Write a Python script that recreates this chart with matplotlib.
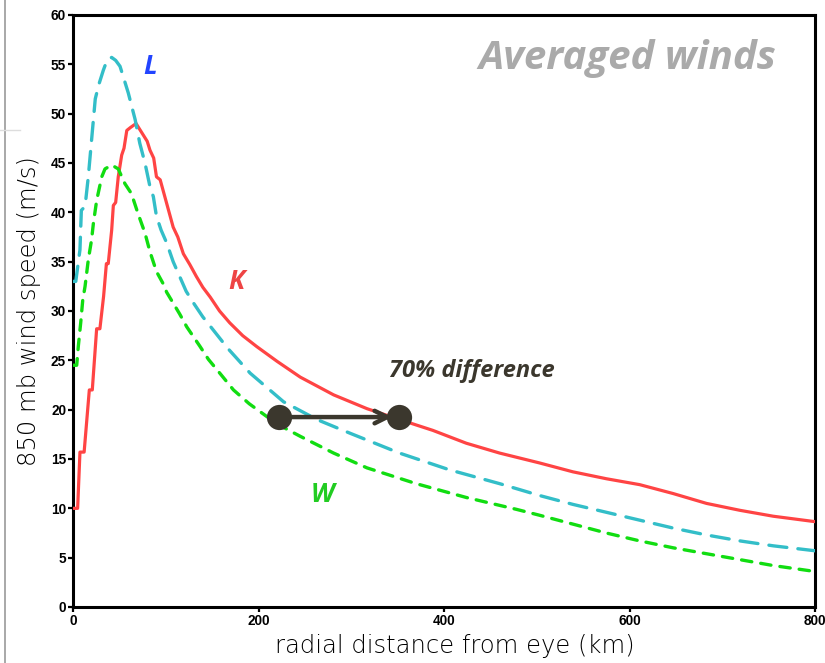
import matplotlib
matplotlib.use("Agg")
import matplotlib.pyplot as plt
from matplotlib.lines import Line2D

plt.rcParams['lines.scale_dashes'] = False

# ---------------- data ----------------
k_x = [0, 5, 7.5, 12, 17.6, 20.8, 25.5, 29, 33, 36, 38, 41.7, 43.5, 46, 48.8, 52.5, 55, 58, 62, 68,
       72, 76, 80, 83, 87, 90, 94, 101, 108, 113, 119, 126, 133, 140, 148, 158, 169, 183, 198, 220,
       245, 281, 317, 352, 388, 424, 460, 503, 539, 575, 611, 647, 683, 719, 755, 800]
k_y = [10, 10, 15.7, 15.7, 22, 22, 28.2, 28.2, 31.5, 34.8, 34.8, 38.2, 40.7, 41.0, 43.6, 45.8, 46.5, 48.3, 48.6, 49.0,
       48.4, 47.8, 47.2, 46.3, 45.5, 43.6, 43.3, 40.9, 38.5, 37.5, 35.8, 34.7, 33.5, 32.4, 31.4, 30.0, 28.8, 27.5, 26.4, 24.9,
       23.3, 21.5, 20.1, 19.0, 17.9, 16.6, 15.6, 14.6, 13.7, 13.0, 12.4, 11.5, 10.5, 9.8, 9.2, 8.65]

l_x = [0, 3, 7.5, 9, 13, 16.5, 20, 24, 28, 32.7, 37, 41.7, 46, 50.7, 55, 59.6, 67, 72, 77.6, 83, 86.6,
       90, 95, 101, 108, 115, 122, 130, 140, 151, 167, 191, 227, 263, 299, 352, 406, 460, 503, 539,
       575, 611, 647, 683, 719, 755, 800]
l_y = [33, 33, 36.2, 40.2, 40.6, 43.6, 47.3, 51.5, 53.0, 54.4, 55.5, 55.7, 55.4, 54.8, 53.5, 52.1, 49.4, 47.0, 45.0, 42.6, 41.6,
       39.6, 38.2, 36.9, 35.0, 33.5, 32.0, 30.8, 29.4, 28.1, 26.2, 23.7, 20.8, 19.0, 17.6, 15.6, 13.9, 12.5, 11.3, 10.4,
       9.6, 8.8, 8.0, 7.3, 6.7, 6.2, 5.7]

w_x = [0, 4, 5.7, 8.3, 10.5, 13, 16.5, 20, 22, 25.5, 31, 34.5, 41.7, 48.8, 56, 63, 70, 77.6, 83, 90, 97,
       101, 108, 115, 122.6, 137, 146, 160, 173, 190, 209, 227, 245, 281, 317, 370, 424, 478, 503, 539,
       575, 611, 647, 683, 719, 755, 800]
w_y = [24.5, 24.5, 26.4, 28.8, 31.1, 32.5, 35.2, 37.2, 38.9, 41.2, 43.6, 44.4, 44.8, 44.4, 42.9, 41.9, 39.9, 37.9, 36.0, 34.0, 32.8,
       31.9, 30.8, 29.7, 28.4, 26.4, 25.1, 23.5, 22.0, 20.6, 19.3, 18.2, 17.3, 15.6, 14.1, 12.5, 11.1, 9.9, 9.3, 8.4,
       7.5, 6.7, 6.0, 5.4, 4.8, 4.2, 3.6]

arrow_x = [222, 352]
arrow_y = [19.25, 19.25]

x_ticks = [0, 200, 400, 600, 800]
y_ticks = [0, 5, 10, 15, 20, 25, 30, 35, 40, 45, 50, 55, 60]

# ---------------- figure ----------------
fig = plt.figure(figsize=(8.25, 6.63), dpi=100)
ax = fig.add_axes([73/825, 1-607/663, (815-73)/825, (607-15)/663])

ax.plot(k_x, k_y, color='#ff4444', lw=2.3, solid_joinstyle='round', zorder=3)
ax.plot(l_x, l_y, color='#33bec8', lw=2.4, dashes=(13, 8), dash_capstyle='round', zorder=3)
ax.plot(w_x, w_y, color='#11dd11', lw=2.4, dashes=(7.5, 6.5), dash_capstyle='round', zorder=3)

ax.set_xlim(0, 800)
ax.set_ylim(0, 60)
ax.set_xticks(x_ticks)
ax.set_yticks(y_ticks)
ax.set_xticklabels([str(v) for v in x_ticks])
ax.set_yticklabels([str(v) for v in y_ticks])
for sp in ax.spines.values():
    sp.set_linewidth(2.2)
ax.tick_params(direction='out', length=3.5, width=1.6, pad=1.5, labelsize=9.8)
for lab in ax.get_xticklabels() + ax.get_yticklabels():
    lab.set_family('Liberation Sans')
    lab.set_fontweight('bold')

ax.set_xlabel('radial distance from eye (km)', fontsize=17.5, family='DejaVu Sans',
              fontweight='light', labelpad=6)
ax.set_ylabel('850 mb wind speed (m/s)', fontsize=17.5, family='DejaVu Sans',
              fontweight='light', labelpad=7)
ax.xaxis.set_label_coords((455 - 73) / 742, -0.045)
ax.xaxis.label.set_va('top')

# arrow annotation
dark = '#3b372d'
ax.annotate('', xy=(arrow_x[1] - 8, arrow_y[1]), xytext=(arrow_x[0], arrow_y[0]),
            arrowprops=dict(arrowstyle='->,head_length=0.9,head_width=0.45', color=dark, lw=3.2,
                            shrinkA=0, shrinkB=0, capstyle='round'), zorder=4)
ax.scatter(arrow_x, arrow_y, s=330, color=dark, zorder=5, linewidths=0)

tf = dict(family='Open Sans', fontweight='bold', fontstyle='italic')
fig.text(150/825, 1-67/663, 'L', color='#2244ff', fontsize=19, ha='center', va='center', **tf)
fig.text(236/825, 1-281/663, 'K', color='#ee4444', fontsize=19, ha='center', va='center', **tf)
fig.text(322/825, 1-495/663, 'W', color='#22cc22', fontsize=19, ha='center', va='center', **tf)
fig.text(472/825, 1-371/663, '70% difference', color=dark, fontsize=17, ha='center', va='center', **tf)
fig.text(627/825, 1-58/663, 'Averaged winds', color='#aaaaaa', fontsize=29, ha='center', va='center', **tf)

# screenshot border artefacts
fig.add_artist(Line2D([4.5/825, 4.5/825], [0, 1], transform=fig.transFigure, color='#999999', lw=1.2))
fig.add_artist(Line2D([0, 20/825], [1-130/663, 1-130/663], transform=fig.transFigure, color='#dddddd', lw=1))

fig.savefig('out.png', dpi=100)
